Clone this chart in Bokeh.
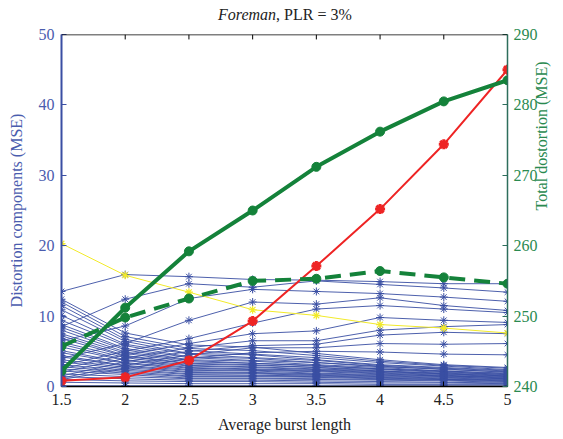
import math
from bokeh.plotting import figure
from bokeh.models import Range1d, LinearAxis, FixedTicker, Span, Div
from bokeh.layouts import column
from bokeh.embed import file_html
from bokeh.resources import INLINE

# ---------------- data ----------------
burst = [1.5, 2, 2.5, 3, 3.5, 4, 4.5, 5]
x_tick_labels = ["1.5", "2", "2.5", "3", "3.5", "4", "4.5", "5"]
left_ticks = [0, 10, 20, 30, 40, 50]
right_ticks = [240, 250, 260, 270, 280, 290]

# total distortion (right axis)
total_solid = [242.2, 251.2, 259.2, 265.0, 271.2, 276.2, 280.5, 283.5]
total_dashed = [245.7, 249.8, 252.5, 255.0, 255.3, 256.4, 255.5, 254.6]

# highlighted components (left axis)
red_comp = [0.8, 1.3, 3.7, 9.3, 17.1, 25.2, 34.4, 45.0]
yellow_comp = [20.3, 15.8, 13.4, 10.9, 10.1, 8.8, 8.3, 7.6]

# blue components rising with burst length
blue_r1 = [13.5, 15.9, 15.6, 15.2, 15.1, 14.9, 14.6, 14.6]
blue_r2 = [8.5, 12.4, 14.6, 14.1, 15.0, 14.5, 14.0, 13.4]
blue_r3 = [6.5, 8.6, 12.5, 13.8, 13.5, 13.2, 12.7, 12.1]
blue_r4 = [4.0, 6.1, 9.4, 12.0, 11.7, 12.6, 11.5, 10.8]
blue_r5 = [3.0, 5.0, 6.8, 9.0, 11.0, 11.5, 11.0, 10.5]
blue_r6 = [2.5, 4.5, 6.1, 7.5, 7.9, 9.8, 9.4, 9.1]
blue_r7 = [2.0, 4.0, 5.5, 6.5, 6.5, 8.0, 8.5, 8.8]
blue_r8 = [1.5, 3.5, 5.0, 5.8, 6.0, 7.3, 7.7, 7.5]
blue_r9 = [1.2, 3.0, 4.5, 5.5, 5.5, 6.1, 6.0, 6.1]
blue_r10 = [1.0, 2.5, 4.0, 4.8, 5.0, 4.9, 4.6, 4.5]

# blue components falling with burst length
blue_d1 = [12.4, 7.6, 5.9, 5.6, 4.7, 3.8, 3.1, 2.7]
blue_d2 = [12.0, 7.1, 5.4, 5.1, 4.4, 3.6, 3.0, 2.6]
blue_d3 = [11.5, 6.7, 5.1, 4.6, 4.1, 3.4, 2.9, 2.4]
blue_d4 = [10.9, 6.4, 4.7, 4.5, 3.8, 3.1, 2.7, 2.3]
blue_d5 = [10.1, 6.0, 4.6, 4.1, 3.7, 3.0, 2.6, 2.2]
blue_d6 = [9.4, 5.8, 4.2, 4.0, 3.4, 2.9, 2.4, 2.1]
blue_d7 = [8.8, 5.4, 4.1, 3.7, 3.4, 2.8, 2.5, 2.0]
blue_d8 = [8.4, 5.2, 3.8, 3.6, 3.1, 2.7, 2.2, 1.9]
blue_d9 = [8.0, 4.9, 3.7, 3.3, 3.0, 2.5, 2.2, 1.8]
blue_d10 = [7.5, 4.7, 3.5, 3.3, 2.9, 2.5, 2.1, 1.7]
blue_d11 = [7.2, 4.4, 3.3, 3.1, 2.7, 2.4, 2.0, 1.7]
blue_d12 = [6.8, 4.3, 3.2, 3.0, 2.7, 2.2, 1.9, 1.6]
blue_d13 = [6.3, 4.1, 3.0, 2.8, 2.5, 2.2, 1.8, 1.5]
blue_d14 = [6.0, 3.8, 2.9, 2.7, 2.4, 2.1, 1.8, 1.5]
blue_d15 = [5.6, 3.7, 2.7, 2.5, 2.3, 2.0, 1.7, 1.4]
blue_d16 = [5.1, 3.4, 2.6, 2.4, 2.2, 1.9, 1.6, 1.3]
blue_d17 = [4.8, 3.3, 2.4, 2.3, 2.1, 1.8, 1.5, 1.3]
blue_d18 = [4.4, 3.0, 2.3, 2.2, 1.9, 1.7, 1.5, 1.2]
blue_d19 = [4.2, 2.9, 2.1, 2.0, 1.8, 1.6, 1.4, 1.1]
blue_d20 = [3.8, 2.7, 2.0, 1.9, 1.7, 1.5, 1.3, 1.1]
blue_d21 = [3.5, 2.5, 1.8, 1.8, 1.6, 1.4, 1.2, 1.0]
blue_d22 = [3.1, 2.3, 1.7, 1.6, 1.5, 1.3, 1.1, 0.9]
blue_d23 = [2.8, 2.1, 1.5, 1.5, 1.4, 1.2, 1.0, 0.9]
blue_d24 = [2.5, 1.9, 1.4, 1.4, 1.3, 1.1, 1.0, 0.8]
blue_d25 = [2.2, 1.7, 1.2, 1.2, 1.1, 1.0, 0.9, 0.7]
blue_d26 = [1.8, 1.4, 1.1, 1.1, 1.0, 0.9, 0.8, 0.6]
blue_d27 = [1.4, 1.1, 0.9, 0.9, 0.8, 0.7, 0.6, 0.5]
blue_d28 = [1.0, 0.8, 0.7, 0.7, 0.6, 0.5, 0.5, 0.4]
blue_d29 = [0.6, 0.5, 0.4, 0.4, 0.4, 0.3, 0.3, 0.3]
blue_d30 = [0.1, 0.1, 0.1, 0.1, 0.1, 0.1, 0.1, 0.1]

blue_series = [
    blue_r1, blue_r2, blue_r3, blue_r4, blue_r5, blue_r6, blue_r7, blue_r8,
    blue_r9, blue_r10,
    blue_d1, blue_d2, blue_d3, blue_d4, blue_d5, blue_d6, blue_d7, blue_d8,
    blue_d9, blue_d10, blue_d11, blue_d12, blue_d13, blue_d14, blue_d15,
    blue_d16, blue_d17, blue_d18, blue_d19, blue_d20, blue_d21, blue_d22,
    blue_d23, blue_d24, blue_d25, blue_d26, blue_d27, blue_d28, blue_d29,
    blue_d30,
]

# ---------------- styles ----------------
FONT = "Liberation Serif"
BLUE = "#3a4fa3"
BLUE_TXT = "#4a5cae"
GREEN = "#14823a"
GREEN_TXT = "#2a8a50"
GREEN_SPINE = "#2d6e5c"
RED = "#ee2424"
YELLOW = "#f2ea2a"
TITLE_H = 26

p = figure(width=563, height=439 - TITLE_H, output_backend="svg",
           toolbar_location=None,
           x_range=Range1d(1.5, 5), y_range=Range1d(0, 50),
           min_border_left=61, min_border_right=56, min_border_top=34 - TITLE_H,
           min_border_bottom=53)
p.extra_y_ranges = {"tot": Range1d(240, 290)}
p.grid.visible = False
p.outline_line_color = None
p.background_fill_color = "white"
p.border_fill_color = "white"

# blue component lines
p.multi_line([burst] * len(blue_series), blue_series, line_color=BLUE,
             line_width=1, line_alpha=0.9)
bx = [xv for s in blue_series for xv in burst]
by = [yv for s in blue_series for yv in s]
p.scatter(bx, by, marker="asterisk", size=8, line_color=BLUE, line_width=1)

# yellow
p.line(burst, yellow_comp, line_color=YELLOW, line_width=1)
p.scatter(burst, yellow_comp, marker="asterisk", size=8, line_color=YELLOW,
          line_width=1.2)

# red
p.line(burst, red_comp, line_color=RED, line_width=2)
p.scatter(burst, red_comp, marker="asterisk", size=10, line_color=RED,
          line_width=3)

# green dashed & solid on right axis
p.line(burst, total_dashed, y_range_name="tot", line_color=GREEN,
       line_width=4, line_dash="16 9")
p.scatter(burst, total_dashed, y_range_name="tot", marker="circle", size=9,
          fill_color=GREEN, line_color=GREEN)
p.line(burst, total_solid, y_range_name="tot", line_color=GREEN, line_width=4)
p.scatter(burst, total_solid, y_range_name="tot", marker="circle", size=9,
          fill_color=GREEN, line_color=GREEN)

# top box edge with inward ticks
p.add_layout(Span(location=left_ticks[-1], dimension="width",
                  line_color="black", line_width=1.5))
p.segment(x0=burst, y0=[left_ticks[-1]] * len(burst), x1=burst,
          y1=[left_ticks[-1] - 0.7] * len(burst), line_color="black",
          line_width=1)

# ---------------- axes ----------------
xo = {v: l for v, l in zip(burst, x_tick_labels)}

xa = p.xaxis[0]
xa.ticker = FixedTicker(ticks=burst)
xa.major_label_overrides = xo
xa.axis_label = "Average burst length"

ya = p.yaxis[0]
ya.ticker = FixedTicker(ticks=left_ticks)
ya.axis_label = "Distortion components (MSE)"

ry = LinearAxis(y_range_name="tot", ticker=FixedTicker(ticks=right_ticks),
                axis_label="Total dostortion (MSE)")
p.add_layout(ry, "right")

for ax in [xa, ya, ry]:
    ax.minor_tick_line_color = None
    ax.major_tick_in = 5
    ax.major_tick_out = 0
    ax.major_label_text_font = FONT
    ax.major_label_text_font_size = "16px"
    ax.axis_label_text_font = FONT
    ax.axis_label_text_font_size = "16px"
    ax.axis_label_text_font_style = "normal"
    ax.major_label_standoff = 7

xa.axis_label_standoff = 8
ya.axis_label_standoff = 11
ry.major_label_standoff = 6
ry.axis_label_standoff = 1

xa.axis_line_color = "black"
xa.major_tick_line_color = "black"
xa.major_label_text_color = "#222222"
xa.axis_label_text_color = "#222222"
xa.axis_line_width = 1.5

ya.axis_line_color = BLUE
ya.axis_line_width = 2
ya.major_tick_line_color = BLUE
ya.major_label_text_color = BLUE_TXT
ya.axis_label_text_color = BLUE_TXT

ry.axis_line_color = GREEN_SPINE
ry.axis_line_width = 1.5
ry.major_tick_line_color = GREEN_SPINE
ry.major_label_text_color = GREEN_TXT
ry.axis_label_text_color = GREEN_TXT
ry.axis_label_orientation = math.pi / 2

# ---------------- title ----------------
title = Div(text=("<div style='padding-top:7px;padding-left:218px;"
                  "white-space:nowrap;'><i>Foreman</i>, PLR = 3%</div>"),
            width=563, height=TITLE_H, margin=0,
            styles={"font-family": FONT, "font-size": "16px",
                    "color": "#222222", "line-height": "16px"})

layout = column(title, p, spacing=0)
open("out.html", "w").write(file_html(layout, INLINE))
